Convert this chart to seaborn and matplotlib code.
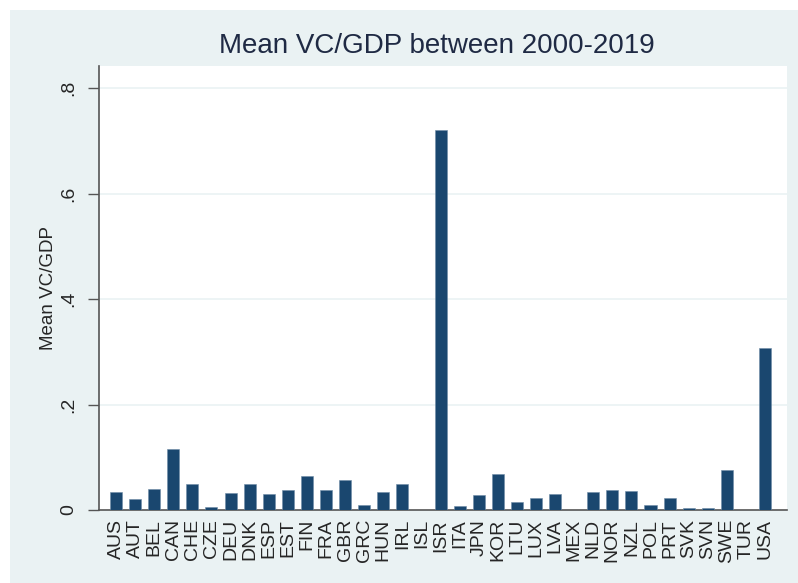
import numpy as np
import pandas as pd
import matplotlib
matplotlib.use('Agg')
import matplotlib.pyplot as plt
from matplotlib.patches import Rectangle
import seaborn as sns

# mean VC/GDP by country
countries = ['AUS', 'AUT', 'BEL', 'CAN', 'CHE', 'CZE', 'DEU', 'DNK', 'ESP', 'EST',
             'FIN', 'FRA', 'GBR', 'GRC', 'HUN', 'IRL', 'ISL', 'ISR', 'ITA', 'JPN',
             'KOR', 'LTU', 'LUX', 'LVA', 'MEX', 'NLD', 'NOR', 'NZL', 'POL', 'PRT',
             'SVK', 'SVN', 'SWE', 'TUR', 'USA']
vc_gdp = [0.034, 0.020, 0.039, 0.116, 0.049, 0.006, 0.032, 0.049, 0.030, 0.038,
          0.064, 0.038, 0.056, 0.009, 0.034, 0.049, 0.0, 0.720, 0.007, 0.028,
          0.068, 0.015, 0.022, 0.030, 0.0, 0.035, 0.037, 0.036, 0.009, 0.022,
          0.004, 0.004, 0.075, 0.0, 0.308]
yticks = [0, 0.2, 0.4, 0.6, 0.8]
ytick_labels = ['0', '.2', '.4', '.6', '.8']

df = pd.DataFrame({'country': countries, 'vc_gdp': vc_gdp})

sns.set_style('white')
plt.rcParams['font.family'] = ['Liberation Sans', 'DejaVu Sans']

bg = '#EAF2F3'
navy = '#1A476F'

fig = plt.figure(figsize=(7.98, 5.83), dpi=100, facecolor='white')
# stata style graph region
fig.patches.append(Rectangle((10 / 798, 0), 1 - 10 / 798, 1 - 10 / 583,
                             transform=fig.transFigure, facecolor=bg,
                             edgecolor='none', zorder=-5))

ax = fig.add_axes([99 / 798, 73 / 583, 688 / 798, 444 / 583])
ax.set_facecolor('white')

sns.barplot(data=df, x='country', y='vc_gdp', color=navy, width=0.63,
            saturation=1, edgecolor='#6E8BA6', linewidth=0.4, ax=ax, zorder=3)

ax.set_xlim(-0.89, 35.15)
ax.set_ylim(0, 0.842)

ax.set_yticks(yticks)
ax.set_yticklabels(ytick_labels, rotation=90, va='center', fontsize=14)
for y in yticks[1:]:
    ax.axhline(y, color=bg, linewidth=1.2, zorder=1)

ax.tick_params(axis='y', left=True, length=8, width=1, color='#555555', pad=8)
ax.tick_params(axis='x', bottom=False, labelsize=14, pad=3)
plt.setp(ax.get_xticklabels(), rotation=90, va='top', ha='center')

for side in ['top', 'right']:
    ax.spines[side].set_visible(False)
for side in ['left', 'bottom']:
    ax.spines[side].set_color('#555555')
    ax.spines[side].set_linewidth(1.2)

ax.set_xlabel('')
ax.set_ylabel('Mean VC/GDP', fontsize=13.5, labelpad=2)

fig.text(436.5 / 798, 1 - 46 / 583, 'Mean VC/GDP between 2000-2019',
         ha='center', va='center', fontsize=20, color='#1f2a44')

fig.savefig('out.png', dpi=100, facecolor=fig.get_facecolor())
